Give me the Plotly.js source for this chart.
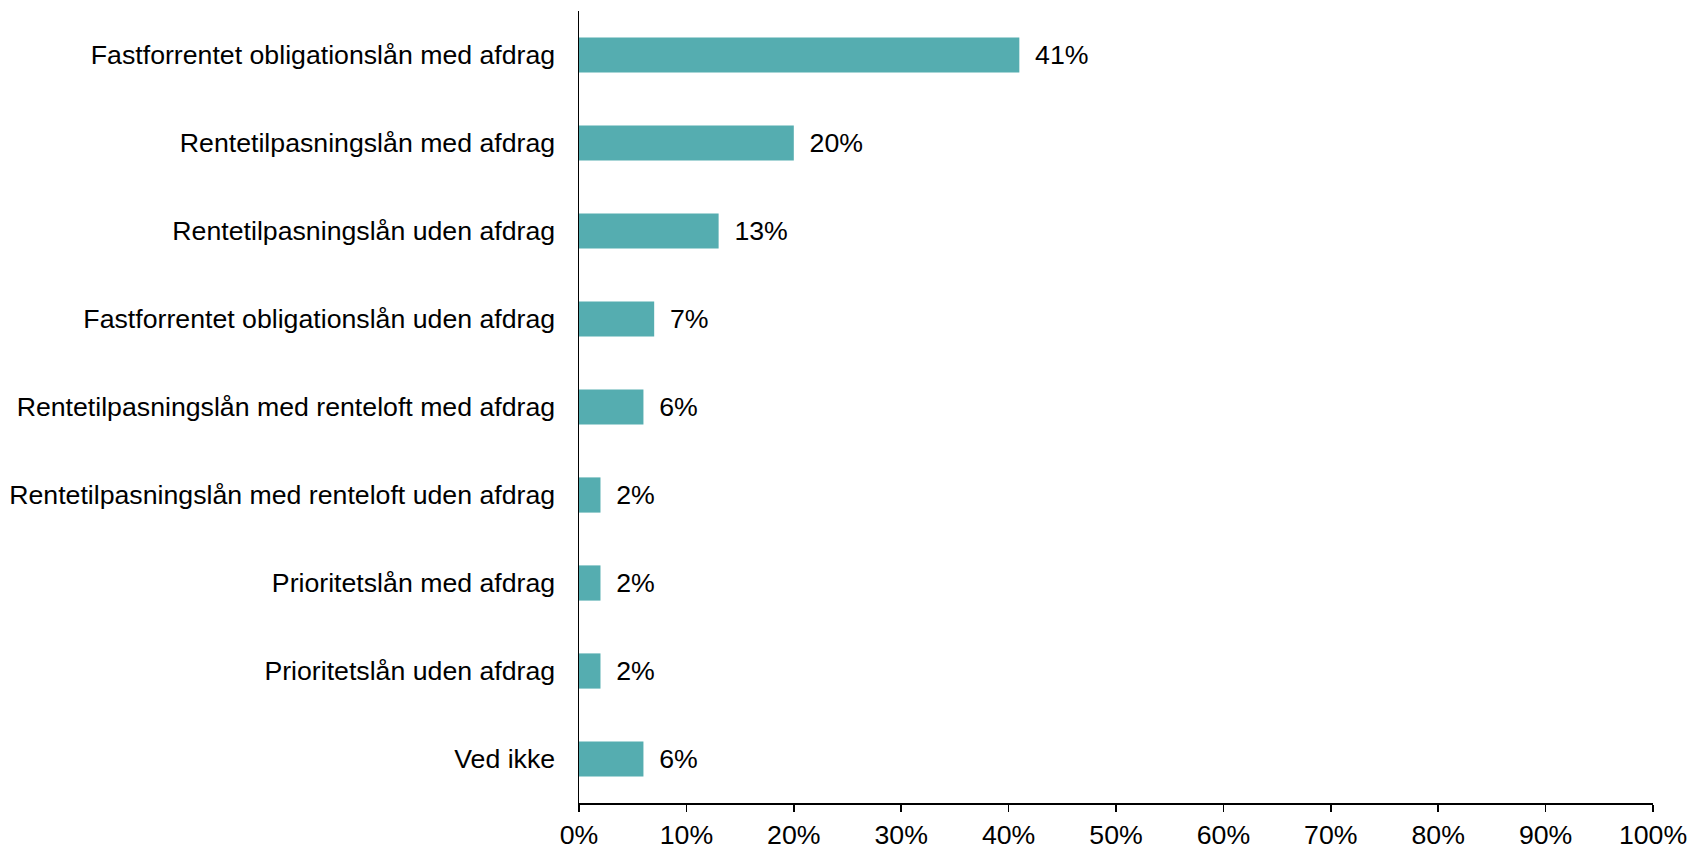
<!DOCTYPE html>
<html>
<head>
<meta charset="utf-8">
<script src="https://cdn.plot.ly/plotly-3.0.1.min.js"></script>
<style>html,body{margin:0;padding:0;background:#fff;}#chart{width:1690px;height:846px;}</style>
</head>
<body>
<div id="chart"></div>
<script>
const categories = [
  "Fastforrentet obligationslån med afdrag",
  "Rentetilpasningslån med afdrag",
  "Rentetilpasningslån uden afdrag",
  "Fastforrentet obligationslån uden afdrag",
  "Rentetilpasningslån med renteloft med afdrag",
  "Rentetilpasningslån med renteloft uden afdrag",
  "Prioritetslån med afdrag",
  "Prioritetslån uden afdrag",
  "Ved ikke"
];
const values = [41, 20, 13, 7, 6, 2, 2, 2, 6];
const tickVals = [0,10,20,30,40,50,60,70,80,90,100];
const tickText = tickVals.map(v => v + "%");

const font = {family: "Liberation Sans, Arial, sans-serif", size: 26.7, color: "#000"};

Plotly.newPlot("chart", [{
  type: "bar",
  orientation: "h",
  y: categories,
  x: values,
  marker: {color: "#55ADB0"},
  text: values.map(v => "\u00a0\u2009" + v + "%"),
  textposition: "outside",
  textfont: font,
  cliponaxis: false,
  hoverinfo: "none"
}], {
  width: 1690, height: 846,
  margin: {l: 579, r: 37, t: 11, b: 43},
  paper_bgcolor: "#fff", plot_bgcolor: "#fff",
  font: font,
  bargap: 0.6,
  showlegend: false,
  xaxis: {
    range: [0, 100], tickvals: tickVals, ticktext: tickText,
    showgrid: false, zeroline: false,
    showline: true, linecolor: "#000", linewidth: 1.5,
    ticks: "outside", ticklen: 7, tickwidth: 1.5, tickcolor: "#000",
    tickfont: font, fixedrange: true
  },
  yaxis: {
    type: "category", autorange: "reversed",
    showgrid: false, zeroline: false,
    showline: true, linecolor: "#000", linewidth: 1.5,
    ticks: "", ticklabelstandoff: 17,
    tickfont: font, fixedrange: true
  }
}, {displayModeBar: false, staticPlot: true});
</script>
</body>
</html>
